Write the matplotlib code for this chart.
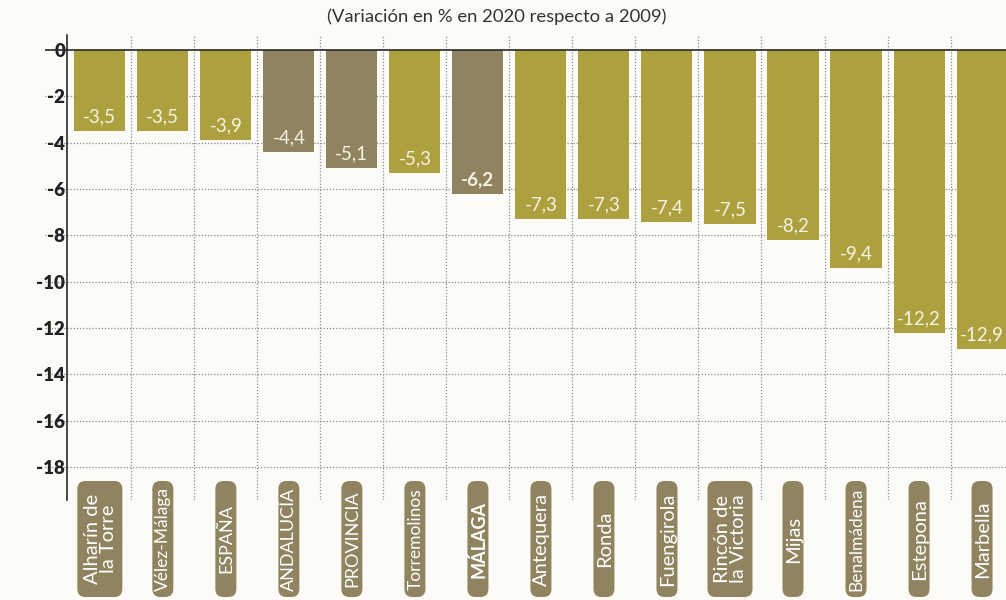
import matplotlib
matplotlib.use("Agg")
import matplotlib.pyplot as plt
from matplotlib.patches import FancyBboxPatch

# ---- data -------------------------------------------------------------
labels = ["Alharín de\nla Torre", "Vélez-Málaga", "ESPAÑA", "ANDALUCÍA",
          "PROVINCIA", "Torremolinos", "MÁLAGA", "Antequera", "Ronda",
          "Fuengirola", "Rincón de\nla Victoria", "Mijas", "Benalmádena",
          "Estepona", "Marbella"]
values = [-3.5, -3.5, -3.9, -4.4, -5.1, -5.3, -6.2, -7.3, -7.3, -7.4,
          -7.5, -8.2, -9.4, -12.2, -12.9]
highlight = ["ANDALUCÍA", "PROVINCIA", "MÁLAGA"]   # darker bars
small_labels = ["Vélez-Málaga", "Torremolinos", "Benalmádena"]
yticks = [0, -2, -4, -6, -8, -10, -12, -14, -16, -18]
title = "(Variación en % en 2020 respecto a 2009)"

OLIVE = "#aca13e"
BROWN = "#8f8360"
BG = "#fcfbf8"
FONT = "Lato"

plt.rcParams["font.family"] = [FONT, "DejaVu Sans"]

fig = plt.figure(figsize=(10.06, 6.0), dpi=100, facecolor=BG)
ax = fig.add_axes([45 / 1006, 100 / 600, 961 / 1006, 465 / 600])
ax.set_facecolor(BG)

x = list(range(len(values)))
colors = [BROWN if lab in highlight else OLIVE for lab in labels]
ax.bar(x, values, width=0.81, color=colors, zorder=3)

ax.set_xlim(-0.87, 14.38)
ax.set_ylim(-19.42, 0.65)

# grid
for yt in yticks[1:]:
    ax.axhline(yt, color="#8a8a8a", lw=0.9, ls=(0, (1, 1.5)), zorder=1)
for k in range(len(values)):
    ax.axvline(k + 0.5, color="#8a8a8a", lw=0.9, ls=(0, (1, 1.5)), zorder=1)
ax.axhline(0, color="#2a2a2a", lw=1.2, zorder=4)

# spines / ticks
for s in ["top", "right", "bottom"]:
    ax.spines[s].set_visible(False)
ax.spines["left"].set_position(("data", -0.52))
ax.spines["left"].set_color("#2a2a2a")
ax.spines["left"].set_linewidth(1.2)
ax.set_xticks([])
ax.set_yticks(yticks)
ax.set_yticklabels([str(v) for v in yticks])
ax.tick_params(axis="y", length=0, pad=0)
for t in ax.get_yticklabels():
    t.set_fontweight("heavy")
    t.set_fontsize(13.5)
    t.set_color("#222222")
    t.set_x(-0.03)

# value labels inside bars
for xi, v, lab in zip(x, values, labels):
    txt = f"{v:.1f}".replace(".", ",")
    ax.annotate(txt, (xi, v), xytext=(0, 4), textcoords="offset points",
                ha="center", va="bottom", color="#f7f3e2", fontsize=13.5,
                fontweight="bold" if lab == "MÁLAGA" else "normal", zorder=5)

# category labels in rounded boxes below the plot
fig.canvas.draw()
box_top, box_bot = 600 - 481, 600 - 597   # pixel y (from bottom)
for xi, lab in zip(x, labels):
    xc = ax.transData.transform((xi, 0))[0]
    two = "\n" in lab
    w = 45 if two else 21
    fig.patches.append(FancyBboxPatch(
        ((xc - w / 2) / 1006, box_bot / 600), w / 1006, (box_top - box_bot) / 600,
        boxstyle="round,pad=0,rounding_size=0.008", transform=fig.transFigure,
        facecolor=BROWN, edgecolor="none", mutation_aspect=1006 / 600))
    if lab.isupper():
        fs = 13
    elif lab in small_labels:
        fs = 12.5
    else:
        fs = 14.5
    fig.text(xc / 1006 + 0.5 / 1006, (box_top + box_bot) / 2 / 600, lab, rotation=90,
             ha="center", va="center", multialignment="center", color="white",
             fontsize=fs, fontweight="bold" if lab == "MÁLAGA" else "normal",
             linespacing=0.95)

fig.text(497 / 1006, 1 - 17 / 600, title, ha="center", va="center",
         fontsize=13.3, color="#333333")

fig.savefig("out.png", dpi=100, facecolor=BG)
